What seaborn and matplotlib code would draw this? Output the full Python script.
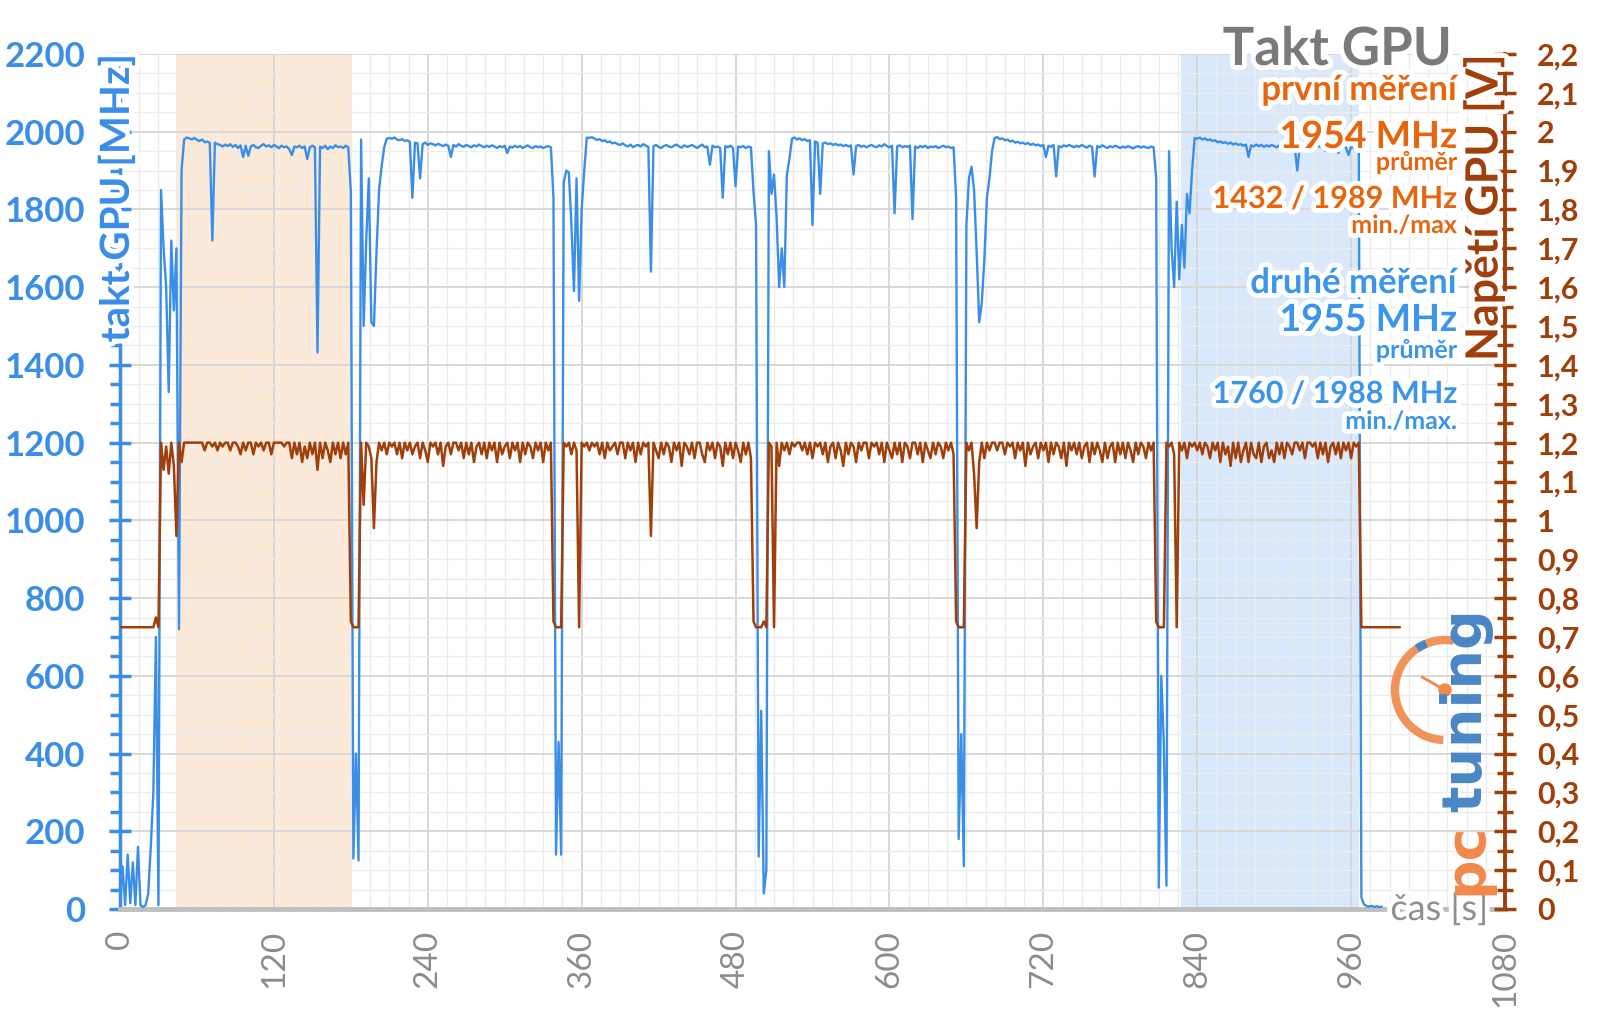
import numpy as np
import pandas as pd
import matplotlib
matplotlib.use("Agg")
import matplotlib.pyplot as plt
import matplotlib.patheffects as pe
from matplotlib.patches import Arc, Circle
from matplotlib.ticker import MultipleLocator
import seaborn as sns

# sampling step of the log [s]
STEP = 2

# GPU clock [MHz], one list per part of the log
clock_idle = [10, 110, 10, 140, 15, 120, 10, 160, 10, 5, 10, 40, 160, 300, 700, 10]
clock_ramp = [1850, 1700, 1600, 1330, 1720, 1540, 1700, 720, 1900, 1980]
clock_run1 = [1985, 1983, 1980, 1984, 1979, 1976, 1980, 1973, 1975, 1971,
              1720, 1972, 1968, 1966, 1962, 1967, 1963, 1968, 1961, 1966,
              1958, 1965, 1935, 1964, 1938, 1962, 1966, 1960, 1958, 1964,
              1968, 1962, 1965, 1960, 1966, 1962, 1958, 1964, 1960, 1962,
              1955, 1940, 1962, 1960, 1964, 1958, 1962, 1930, 1960, 1964,
              1960, 1432, 1962, 1958, 1964, 1955, 1962, 1958, 1965, 1960,
              1962, 1958, 1964, 1960]
clock_gap1 = [1845, 130, 400, 125, 1980, 1500, 1720, 1880, 1510, 1500, 1690, 1850, 1910, 1960, 1982]
clock_run2 = [1984, 1982, 1985, 1980, 1978, 1981, 1976, 1978, 1974, 1830,
              1972, 1970, 1880, 1968, 1972, 1966, 1970, 1968, 1965, 1969,
              1966, 1963, 1967, 1964, 1935, 1966, 1962, 1968, 1964, 1961,
              1966, 1963, 1960, 1965, 1962, 1967, 1963, 1960, 1964, 1961,
              1965, 1962, 1958, 1963, 1960, 1964, 1945, 1962, 1959, 1964,
              1960, 1963, 1958, 1962, 1965, 1960, 1958, 1963, 1960, 1962,
              1958, 1961, 1963, 1960]
clock_gap2 = [1830, 140, 430, 140, 1870, 1900, 1895, 1760, 1590, 1880, 1565, 1800, 1900, 1985]
clock_run3 = [1984, 1986, 1982, 1979, 1981, 1976, 1978, 1973, 1975, 1970,
              1972, 1968, 1966, 1970, 1965, 1962, 1967, 1960, 1964, 1966,
              1962, 1968, 1964, 1961, 1640, 1963, 1966, 1961, 1958, 1963,
              1966, 1962, 1960, 1964, 1967, 1962, 1959, 1965, 1961, 1963,
              1966, 1962, 1958, 1963, 1967, 1960, 1962, 1915, 1964, 1960,
              1962, 1958, 1830, 1963, 1960, 1964, 1958, 1860, 1962, 1960,
              1963, 1958, 1962, 1960]
clock_gap3 = [1845, 1760, 135, 510, 40, 100, 1950, 1840, 1890, 1780, 1600, 1700, 1600, 1890, 1930, 1982]
clock_run4 = [1985, 1980, 1983, 1978, 1981, 1976, 1978, 1760, 1975, 1972,
              1840, 1970, 1972, 1968, 1970, 1966, 1969, 1965, 1967, 1963,
              1966, 1962, 1965, 1890, 1963, 1966, 1961, 1964, 1960, 1963,
              1966, 1962, 1960, 1965, 1962, 1968, 1963, 1960, 1964, 1790,
              1962, 1965, 1960, 1963, 1961, 1964, 1775, 1962, 1958, 1963,
              1960, 1964, 1958, 1962, 1960, 1963, 1958, 1961, 1964, 1960,
              1962, 1958, 1960]
clock_gap4 = [1830, 180, 450, 110, 1760, 1880, 1910, 1850, 1690, 1510, 1560, 1670, 1830, 1880, 1950]
clock_run5 = [1984, 1986, 1981, 1983, 1978, 1980, 1975, 1977, 1972, 1974,
              1970, 1972, 1968, 1971, 1966, 1969, 1965, 1967, 1963, 1966,
              1935, 1964, 1961, 1966, 1885, 1963, 1960, 1965, 1962, 1966,
              1963, 1960, 1964, 1961, 1966, 1962, 1959, 1964, 1961, 1885,
              1963, 1960, 1965, 1961, 1958, 1963, 1960, 1964, 1961, 1958,
              1962, 1959, 1963, 1960, 1957, 1961, 1963, 1959, 1962, 1960,
              1958, 1962, 1960]
clock_gap5 = [1880, 55, 600, 420, 60, 1950, 1700, 1600, 1820, 1620, 1760, 1650, 1840, 1790, 1900, 1984]
clock_run6 = [1982, 1985, 1980, 1983, 1978, 1980, 1976, 1978, 1973, 1975,
              1971, 1973, 1969, 1972, 1967, 1970, 1966, 1968, 1964, 1967,
              1935, 1965, 1962, 1967, 1963, 1966, 1961, 1965, 1962, 1966,
              1963, 1960, 1965, 1961, 1964, 1960, 1963, 1966, 1961, 1900,
              1963, 1960, 1964, 1961, 1958, 1963, 1960, 1964, 1961, 1958,
              1950, 1962, 1959, 1963, 1960, 1945, 1961, 1963, 1959, 1940,
              1962, 1958, 1961, 1955]
clock_end = [30, 12, 8, 6, 8, 5, 7, 5, 6]

# GPU voltage [V]
volt_idle = [0.725, 0.725, 0.725, 0.725, 0.725, 0.725, 0.725, 0.725,
             0.725, 0.725, 0.725, 0.725, 0.725, 0.725, 0.75, 0.725]
volt_ramp = [1.2, 1.13, 1.19, 1.12, 1.2, 1.14, 0.96, 1.2, 1.15, 1.2]
volt_run1 = [1.2, 1.2, 1.2, 1.2, 1.2, 1.2, 1.2, 1.18, 1.2, 1.2,
             1.19, 1.2, 1.18, 1.2, 1.19, 1.2, 1.2, 1.18, 1.2, 1.2,
             1.19, 1.17, 1.2, 1.18, 1.2, 1.2, 1.17, 1.2, 1.19, 1.2,
             1.18, 1.2, 1.2, 1.17, 1.2, 1.2, 1.2, 1.2, 1.19, 1.2,
             1.2, 1.16, 1.2, 1.17, 1.2, 1.15, 1.19, 1.16, 1.2, 1.17,
             1.2, 1.13, 1.2, 1.16, 1.2, 1.18, 1.15, 1.2, 1.17, 1.2,
             1.16, 1.2, 1.17, 1.2]
volt_gap1 = [0.74, 0.725, 0.725, 0.725, 1.2, 1.04, 1.2, 1.19, 1.16, 0.98, 1.15, 1.2, 1.18, 1.2, 1.17]
volt_run2 = [1.2, 1.19, 1.2, 1.17, 1.2, 1.16, 1.2, 1.18, 1.2, 1.17,
             1.19, 1.2, 1.16, 1.2, 1.18, 1.15, 1.2, 1.19, 1.2, 1.17,
             1.2, 1.14, 1.19, 1.2, 1.17, 1.2, 1.2, 1.18, 1.2, 1.16,
             1.2, 1.17, 1.2, 1.15, 1.19, 1.2, 1.17, 1.2, 1.16, 1.2,
             1.18, 1.2, 1.15, 1.2, 1.17, 1.19, 1.2, 1.16, 1.2, 1.18,
             1.2, 1.15, 1.2, 1.17, 1.2, 1.19, 1.16, 1.2, 1.18, 1.2,
             1.15, 1.2, 1.18, 1.2]
volt_gap2 = [0.74, 0.725, 0.725, 0.725, 1.2, 1.19, 1.2, 1.17, 1.2, 1.18, 0.725, 1.2, 1.19, 1.2]
volt_run3 = [1.18, 1.2, 1.19, 1.2, 1.17, 1.2, 1.16, 1.2, 1.18, 1.19,
             1.2, 1.17, 1.2, 1.2, 1.16, 1.2, 1.18, 1.2, 1.15, 1.2,
             1.17, 1.2, 1.19, 1.2, 0.96, 1.2, 1.18, 1.16, 1.2, 1.17,
             1.2, 1.19, 1.15, 1.2, 1.18, 1.2, 1.14, 1.2, 1.19, 1.17,
             1.2, 1.16, 1.2, 1.2, 1.17, 1.15, 1.2, 1.18, 1.2, 1.16,
             1.2, 1.19, 1.14, 1.2, 1.17, 1.2, 1.16, 1.2, 1.18, 1.15,
             1.2, 1.17, 1.2, 1.16]
volt_gap3 = [0.74, 0.725, 0.725, 0.725, 0.74, 0.725, 1.2, 1.19, 0.725, 1.2, 1.14, 1.2, 1.18, 1.2, 1.17, 1.2]
volt_run4 = [1.19, 1.2, 1.2, 1.18, 1.2, 1.17, 1.2, 1.16, 1.2, 1.19,
             1.2, 1.17, 1.2, 1.15, 1.19, 1.2, 1.16, 1.2, 1.18, 1.14,
             1.2, 1.17, 1.2, 1.19, 1.15, 1.2, 1.18, 1.2, 1.2, 1.16,
             1.2, 1.19, 1.2, 1.17, 1.2, 1.15, 1.2, 1.18, 1.16, 1.2,
             1.17, 1.2, 1.15, 1.2, 1.19, 1.16, 1.2, 1.2, 1.17, 1.2,
             1.15, 1.2, 1.18, 1.16, 1.2, 1.17, 1.2, 1.19, 1.16, 1.2,
             1.18, 1.2, 1.17]
volt_gap4 = [0.74, 0.725, 0.725, 0.725, 1.2, 1.18, 1.2, 1.12, 0.98, 1.15, 1.2, 1.16, 1.2, 1.18, 1.2]
volt_run5 = [1.2, 1.18, 1.2, 1.2, 1.17, 1.2, 1.19, 1.2, 1.16, 1.2,
             1.18, 1.2, 1.14, 1.2, 1.17, 1.19, 1.2, 1.16, 1.2, 1.18,
             1.2, 1.15, 1.2, 1.17, 1.2, 1.19, 1.16, 1.2, 1.14, 1.2,
             1.18, 1.2, 1.17, 1.2, 1.16, 1.19, 1.2, 1.15, 1.2, 1.17,
             1.2, 1.18, 1.15, 1.2, 1.16, 1.19, 1.2, 1.15, 1.2, 1.17,
             1.2, 1.16, 1.2, 1.18, 1.15, 1.2, 1.17, 1.2, 1.19, 1.16,
             1.2, 1.18, 1.2]
volt_gap5 = [0.74, 0.725, 0.725, 0.725, 1.2, 1.19, 1.2, 1.17, 0.725, 1.2, 1.18, 1.2, 1.16, 1.2, 1.19, 1.2]
volt_run6 = [1.18, 1.2, 1.17, 1.2, 1.19, 1.16, 1.2, 1.18, 1.2, 1.15,
             1.2, 1.17, 1.19, 1.14, 1.2, 1.16, 1.2, 1.15, 1.18, 1.2,
             1.15, 1.2, 1.17, 1.16, 1.2, 1.15, 1.19, 1.2, 1.16, 1.18,
             1.15, 1.2, 1.17, 1.2, 1.16, 1.2, 1.19, 1.17, 1.2, 1.2,
             1.18, 1.2, 1.16, 1.2, 1.2, 1.19, 1.2, 1.16, 1.2, 1.17,
             1.2, 1.15, 1.19, 1.2, 1.17, 1.2, 1.16, 1.2, 1.18, 1.2,
             1.16, 1.2, 1.19, 1.2]
volt_end = [0.725, 0.725, 0.725, 0.725, 0.725, 0.725, 0.725, 0.725,
            0.725, 0.725, 0.725, 0.725, 0.725, 0.725, 0.725, 0.725]

clock_parts = [(0, clock_idle), (32, clock_ramp), (52, clock_run1), (180, clock_gap1),
               (210, clock_run2), (338, clock_gap2), (366, clock_run3), (494, clock_gap3),
               (526, clock_run4), (652, clock_gap4), (682, clock_run5), (808, clock_gap5),
               (840, clock_run6), (968, clock_end)]
volt_parts = [(0, volt_idle), (32, volt_ramp), (52, volt_run1), (180, volt_gap1),
              (210, volt_run2), (338, volt_gap2), (366, volt_run3), (494, volt_gap3),
              (526, volt_run4), (652, volt_gap4), (682, volt_run5), (808, volt_gap5),
              (840, volt_run6), (968, volt_end)]

# highlighted windows (first / second measurement) [s]
first_window = (44, 180)
second_window = (827, 966)

x_ticks = [0, 120, 240, 360, 480, 600, 720, 840, 960, 1080]
mhz_ticks = [0, 200, 400, 600, 800, 1000, 1200, 1400, 1600, 1800, 2000, 2200]
volt_ticks = [0.0, 0.1, 0.2, 0.3, 0.4, 0.5, 0.6, 0.7, 0.8, 0.9, 1.0, 1.1,
              1.2, 1.3, 1.4, 1.5, 1.6, 1.7, 1.8, 1.9, 2.0, 2.1, 2.2]


def to_frame(parts, name):
    frames = []
    for start, vals in parts:
        frames.append(pd.DataFrame({"t": start + STEP * np.arange(len(vals)), name: vals}))
    return pd.concat(frames, ignore_index=True)


clock_df = to_frame(clock_parts, "mhz")
volt_df = to_frame(volt_parts, "volt")

BLUE = "#3a8ee8"
BROWN = "#a13f0b"
ORANGE = "#e8650f"
TBLUE = "#3b95ea"
GREY = "#8c8c8c"

sns.set_style("white")
plt.rcParams["font.family"] = ["Lato", "DejaVu Sans"]

W, H = 1600, 1009
fig = plt.figure(figsize=(16, 10.09), dpi=100)
ax = fig.add_axes([120 / W, 1 - 909 / H, 1385 / W, 855 / H])

ax.axvspan(*first_window, color="#fde9d7", lw=0, zorder=0.2)
ax.axvspan(*second_window, color="#d9e8fb", lw=0, zorder=0.2)

sns.lineplot(data=clock_df, x="t", y="mhz", ax=ax, color=BLUE, linewidth=1.7,
             estimator=None, sort=False, legend=False, zorder=3)

ax.set_xlim(0, 1080)
ax.set_ylim(0, 2200)
ax.set_axisbelow(True)
ax.xaxis.set_minor_locator(MultipleLocator(15))
ax.yaxis.set_minor_locator(MultipleLocator(50))
ax.grid(which="major", color="#d6d6d6", linewidth=1.3)
ax.grid(which="minor", color="#ececec", linewidth=1.0)

ax.set_xticks(x_ticks)
ax.set_xticklabels([str(v) for v in x_ticks], rotation=90, color=GREY, fontsize=24)
ax.set_yticks(mhz_ticks)
ax.set_yticklabels([str(v) for v in mhz_ticks], color=BLUE, fontsize=25, fontweight="bold")
ax.tick_params(axis="x", which="major", direction="out", length=9, width=3, color="#c0c0c0", pad=6)
ax.tick_params(axis="x", which="minor", length=0)
ax.tick_params(axis="y", which="major", direction="inout", length=16, width=2.5, color=BLUE, pad=17)
ax.tick_params(axis="y", which="minor", direction="out", length=7, width=2.5, color=BLUE)
ax.set_xlabel("")
ax.set_ylabel("")

for side in ["top", "right"]:
    ax.spines[side].set_visible(False)
ax.spines["left"].set_color(BLUE)
ax.spines["left"].set_linewidth(2.5)
ax.spines["bottom"].set_color("#bfbfbf")
ax.spines["bottom"].set_linewidth(3.5)

ax2 = ax.twinx()
sns.lineplot(data=volt_df, x="t", y="volt", ax=ax2, color=BROWN, linewidth=1.8,
             estimator=None, sort=False, legend=False, zorder=4)
ax2.set_ylim(0, 2.2)
ax2.set_yticks(volt_ticks)
ax2.set_yticklabels([f"{v:g}".replace(".", ",") for v in volt_ticks],
                    color=BROWN, fontsize=22, fontweight="bold")
ax2.yaxis.set_minor_locator(MultipleLocator(0.05))
ax2.tick_params(axis="y", which="major", direction="inout", length=16, width=2.5, color=BROWN, pad=15)
ax2.tick_params(axis="y", which="minor", direction="inout", length=12, width=2.5, color=BROWN)
ax2.set_ylabel("")
ax2.grid(False)
for side in ["top", "left", "bottom"]:
    ax2.spines[side].set_visible(False)
ax2.spines["right"].set_color(BROWN)
ax2.spines["right"].set_linewidth(2.8)

glow = [pe.withStroke(linewidth=7, foreground="white")]


def put(x, y, s, **kw):
    kw.setdefault("path_effects", glow)
    return fig.text(x / W, 1 - y / H, s, **kw)


# axis titles
put(117, 54, "takt GPU [MHz]", rotation=90, ha="center", va="top",
    color=BLUE, fontsize=29, fontweight="bold")
put(1484, 54, "Napětí GPU [V]", rotation=90, ha="center", va="top",
    color=BROWN, fontsize=32, fontweight="bold")
put(1488, 920, "čas [s]", ha="right", va="baseline", color="#8f8f8f", fontsize=26)

# summary block
RX = 1457
put(1452, 65, "Takt GPU", ha="right", va="baseline", color="#7a7a7a", fontsize=38, fontweight="bold")
put(RX, 100, "první měření", ha="right", va="baseline", color=ORANGE, fontsize=25, fontweight="bold")
put(RX, 148, "1954 MHz", ha="right", va="baseline", color=ORANGE, fontsize=27, fontweight="bold")
put(RX, 170, "průměr", ha="right", va="baseline", color=ORANGE, fontsize=18, fontweight="bold")
put(RX, 208, "1432 / 1989 MHz", ha="right", va="baseline", color=ORANGE, fontsize=22, fontweight="bold")
put(RX, 233, "min./max", ha="right", va="baseline", color=ORANGE, fontsize=18, fontweight="bold")
put(RX, 293, "druhé měření", ha="right", va="baseline", color=TBLUE, fontsize=25, fontweight="bold")
put(RX, 331, "1955 MHz", ha="right", va="baseline", color=TBLUE, fontsize=27, fontweight="bold")
put(RX, 358, "průměr", ha="right", va="baseline", color=TBLUE, fontsize=18, fontweight="bold")
put(RX, 403, "1760 / 1988 MHz", ha="right", va="baseline", color=TBLUE, fontsize=22, fontweight="bold")
put(RX, 429, "min./max.", ha="right", va="baseline", color=TBLUE, fontsize=18, fontweight="bold")

# pctuning watermark
cx, cy = 1445 / 100, (H - 690) / 100
fig.add_artist(Arc((cx, cy), 1.0, 1.0, theta1=80, theta2=268, color="#f0894a",
                   lw=6, transform=fig.dpi_scale_trans, alpha=0.9))
fig.add_artist(Arc((cx, cy), 1.0, 1.0, theta1=112, theta2=124, color="#4a86c5",
                   lw=6, transform=fig.dpi_scale_trans))
fig.add_artist(plt.Line2D([cx, cx - 0.23], [cy, cy + 0.13], color="#f0894a", lw=2,
                          transform=fig.dpi_scale_trans))
fig.add_artist(Circle((cx, cy), 0.06, color="#f0894a", transform=fig.dpi_scale_trans))
put(1466, 895, "pc", rotation=90, rotation_mode="anchor", ha="left", va="center",
    color="#f0894a", fontsize=40, fontweight="bold", family=["DejaVu Sans"], path_effects=[])
put(1466, 608, "tuning", rotation=90, rotation_mode="anchor", ha="right", va="center",
    color="#4a86c5", fontsize=40, fontweight="bold", family=["DejaVu Sans"], path_effects=[])

fig.savefig("out.png", dpi=100, facecolor="white")
